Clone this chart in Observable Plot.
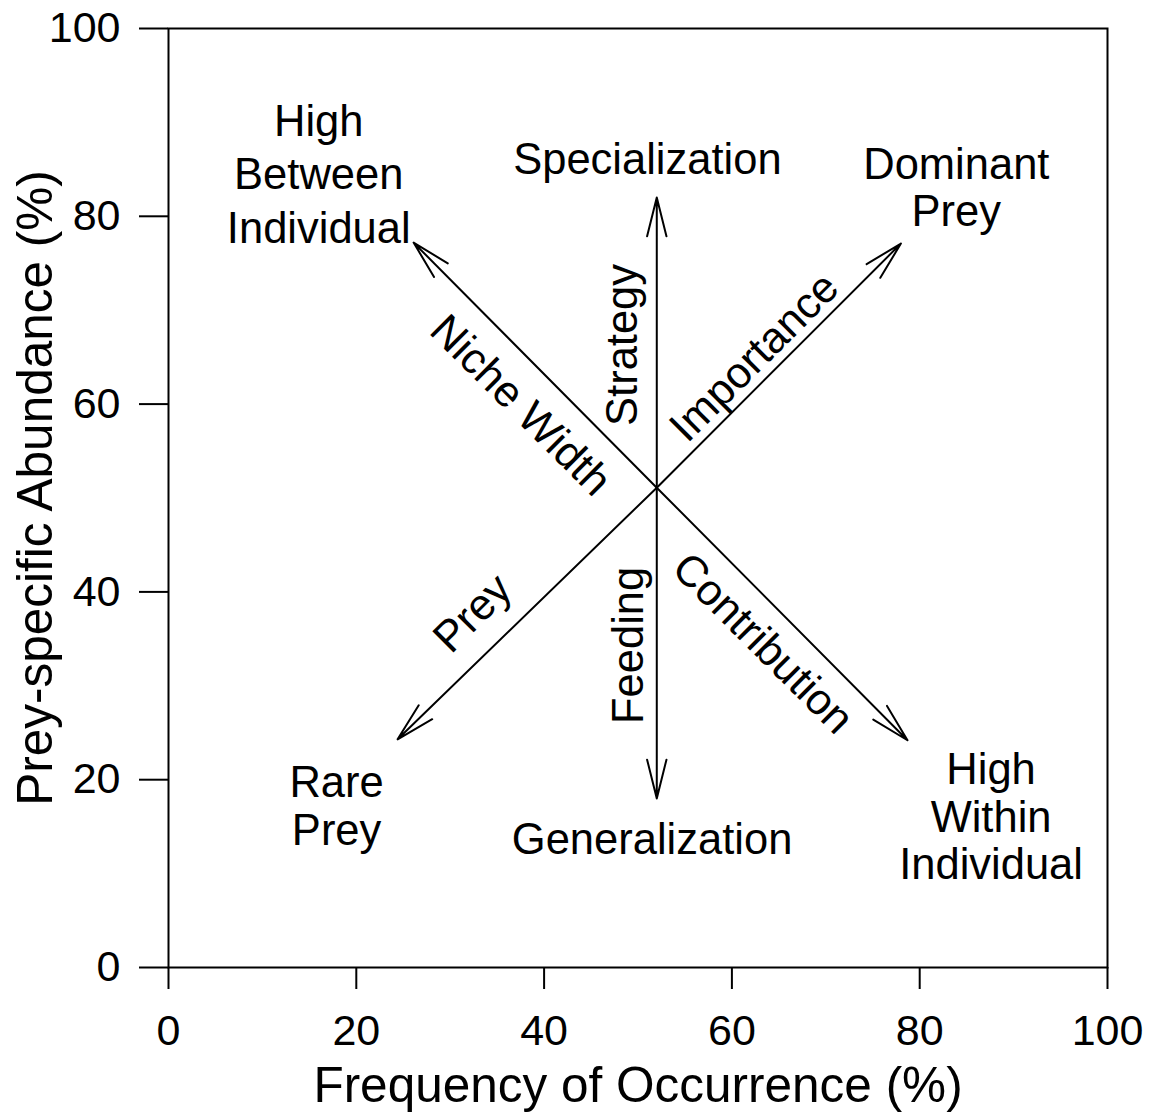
<!DOCTYPE html>
<html>
<head>
<meta charset="utf-8">
<script src="https://cdn.jsdelivr.net/npm/d3@7"></script>
<script src="https://cdn.jsdelivr.net/npm/@observablehq/plot@0.6"></script>
<style>
html, body { margin: 0; padding: 0; background: #fff; }
#chart svg { display: block; }
</style>
</head>
<body>
<div id="chart"></div>
<script>
const xTitle = "Frequency of Occurrence (%)";
const yTitle = "Prey-specific Abundance (%)";
const xTicks = [0, 20, 40, 60, 80, 100];
const yTicks = [0, 20, 40, 60, 80, 100];

// arrows all start from the common centre point
const centerX = 52.0;
const centerY = 51.1;
const arrowEndX = [52.0, 52.0, 26.1, 78.0, 24.4, 78.7];
const arrowEndY = [82.0, 18.0, 77.2, 77.1, 24.3, 24.2];

// labels at the arrow ends
const endLabels = ["Specialization", "Dominant\nPrey", "Rare\nPrey", "Generalization", "High\nWithin\nIndividual"];
const endLabelX = [51.0, 83.9, 17.9, 51.5, 87.6];
const endLabelY = [86.1, 83.1, 17.2, 13.7, 16.1];

const cornerLabels = ["High\nBetween\nIndividual"];
const cornerLabelX = [16.0];
const cornerLabelY = [84.7];

// labels running along the arrows
const axisLabels = ["Strategy", "Feeding", "Importance", "Niche Width", "Prey", "Contribution"];
const axisLabelX = [48.4, 49.1, 62.4, 37.5, 32.4, 63.3];
const axisLabelY = [66.3, 34.3, 65.0, 59.85, 37.7, 34.5];
const axisLabelAngle = [-90, -90, -45, 45, -45, 45];

const FONT = "'Liberation Sans', Arial, Helvetica, sans-serif";

const arrows = arrowEndX.map((x, i) => ({x1: centerX, y1: centerY, x2: x, y2: arrowEndY[i]}));

const chart = Plot.plot({
  width: 1158,
  height: 1115,
  marginLeft: 168,
  marginRight: 51,
  marginTop: 28,
  marginBottom: 148,
  style: {fontFamily: FONT, background: "#fff", color: "#000", overflow: "visible"},
  x: {domain: [0, 100]},
  y: {domain: [0, 100]},
  marks: [
    Plot.frame({stroke: "#000", strokeWidth: 2}),
    Plot.axisX(xTicks, {tickSize: 22, tickPadding: 25, fontSize: 43, strokeWidth: 2, label: null}),
    Plot.axisY(yTicks, {tickSize: 29, tickPadding: 19, fontSize: 43, strokeWidth: 2, label: null}),
    Plot.text([xTitle], {frameAnchor: "bottom", dy: 134, lineAnchor: "bottom", fontSize: 49.5, text: d => d, fill: "#000"}),
    Plot.text([yTitle], {frameAnchor: "left", textAnchor: "middle", dx: -152, dy: -10, rotate: -90, lineAnchor: "top", fontSize: 49.5, text: d => d, fill: "#000"}),
    Plot.arrow(arrows, {x1: "x1", y1: "y1", x2: "x2", y2: "y2", stroke: "#000", strokeWidth: 2, headLength: 30, headAngle: 28}),
    Plot.text(endLabels, {x: (d, i) => endLabelX[i], y: (d, i) => endLabelY[i], text: d => d, fontSize: 43.5, lineHeight: 1.1, fill: "#000"}),
    Plot.text(cornerLabels, {x: (d, i) => cornerLabelX[i], y: (d, i) => cornerLabelY[i], text: d => d, fontSize: 43.5, lineHeight: 1.23, fill: "#000"}),
    Plot.text(axisLabels, {x: (d, i) => axisLabelX[i], y: (d, i) => axisLabelY[i], rotate: (d, i) => axisLabelAngle[i], text: d => d, fontSize: 43.5, fill: "#000"})
  ]
});
document.getElementById("chart").appendChild(chart);
</script>
</body>
</html>
